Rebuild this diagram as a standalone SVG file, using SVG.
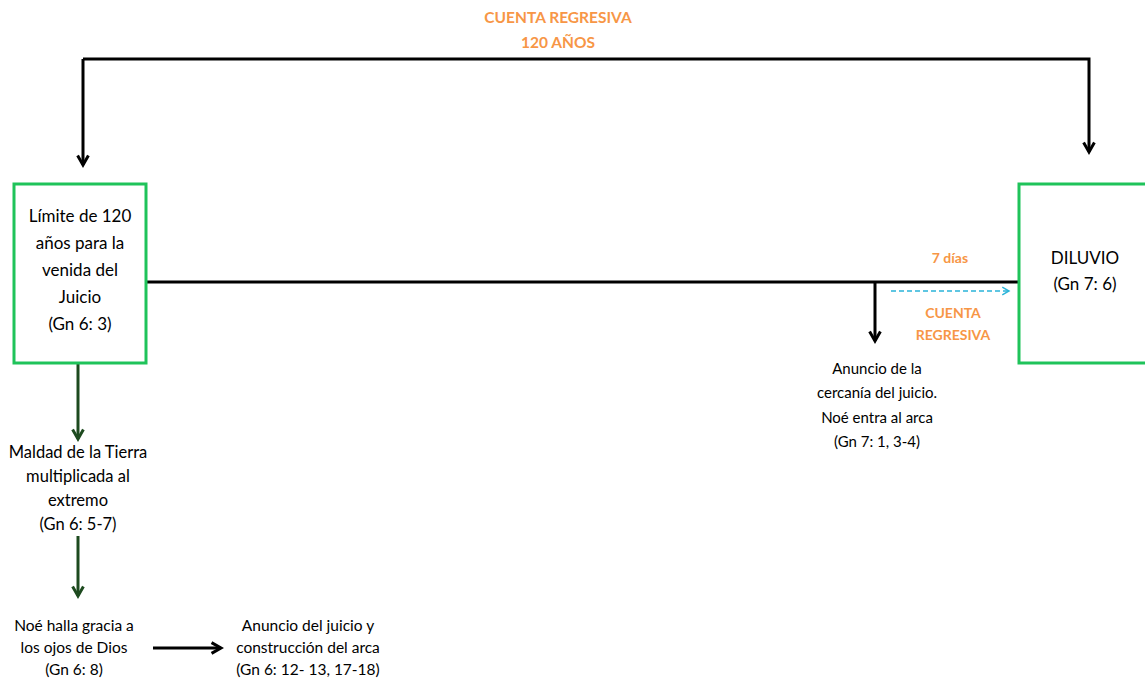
<svg xmlns="http://www.w3.org/2000/svg" width="1145" height="679" viewBox="0 0 1145 679">
  <defs>
    <marker id="ahBlack" viewBox="0 0 10 10" refX="8" refY="5" markerWidth="4.5" markerHeight="4.5" orient="auto">
      <path d="M1,1 L8,5 L1,9" fill="none" stroke="#000" stroke-width="2.2"/>
    </marker>
    <marker id="ahGreen" viewBox="0 0 10 10" refX="8" refY="5" markerWidth="4.5" markerHeight="4.5" orient="auto">
      <path d="M1,1 L8,5 L1,9" fill="none" stroke="#1d4a1f" stroke-width="2.2"/>
    </marker>
    <marker id="ahCyan" viewBox="0 0 10 10" refX="8" refY="5" markerWidth="6" markerHeight="6" orient="auto">
      <path d="M1,1 L8,5 L1,9" fill="none" stroke="#2ab4d9" stroke-width="1.5"/>
    </marker>
  </defs>
  <style>
    text { font-family: Lato, "Open Sans", "Liberation Sans", sans-serif; fill: #000; text-anchor: middle; }
    .box { fill: #fff; stroke: #1fc35a; stroke-width: 3; }
    .orange { fill: #f79646; font-weight: bold; font-size: 14px; }
    .head { font-size: 15.5px; }
    .big { font-size: 17px; }
    .mid { font-size: 16.5px; }
    .side { font-size: 15px; }
    .small { font-size: 15.5px; }
    .line { fill: none; stroke: #000; stroke-width: 3; }
    .green { fill: none; stroke: #1d4a1f; stroke-width: 3; }
  </style>
  <rect width="1145" height="679" fill="#fff"/>

  <g id="connectors">
    <path class="line" d="M83,59 H1089 V152" marker-end="url(#ahBlack)"/>
    <path class="line" d="M83,59 V165" marker-end="url(#ahBlack)"/>
    <line class="line" x1="146" y1="282" x2="1019" y2="282"/>
    <line class="line" x1="875" y1="282" x2="875" y2="341" marker-end="url(#ahBlack)"/>
    <line x1="891" y1="291" x2="1009" y2="291" stroke="#2ab4d9" stroke-width="1.6" stroke-dasharray="5,3" marker-end="url(#ahCyan)"/>
    <line class="green" x1="78" y1="363" x2="78" y2="439" marker-end="url(#ahGreen)"/>
    <line class="green" x1="78" y1="536" x2="78" y2="596" marker-end="url(#ahGreen)"/>
    <line class="line" x1="153" y1="648" x2="221" y2="648" marker-end="url(#ahBlack)"/>
  </g>

  <g id="header-label">
    <text class="orange head" x="558" y="23">CUENTA REGRESIVA</text>
    <text class="orange head" x="558" y="48">120 AÑOS</text>
  </g>

  <g id="node-limite">
    <rect class="box" x="14" y="184" width="132" height="179"/>
    <text class="big" x="80" y="222">Límite de 120</text>
    <text class="big" x="80" y="249">años para la</text>
    <text class="big" x="80" y="276">venida del</text>
    <text class="big" x="80" y="303">Juicio</text>
    <text class="big" x="80" y="330">(Gn 6: 3)</text>
  </g>

  <g id="node-diluvio">
    <rect class="box" x="1019" y="184" width="140" height="179"/>
    <text class="big" x="1085" y="264">DILUVIO</text>
    <text class="big" x="1085" y="290">(Gn 7: 6)</text>
  </g>

  <g id="label-7dias">
    <text class="orange" x="950" y="263">7 días</text>
    <text class="orange" x="953" y="318">CUENTA</text>
    <text class="orange" x="953" y="340">REGRESIVA</text>
  </g>

  <g id="node-anuncio-cercania">
    <text class="side" x="877" y="374">Anuncio de la</text>
    <text class="side" x="877" y="398">cercanía del juicio.</text>
    <text class="side" x="877" y="423">Noé entra al arca</text>
    <text class="side" x="877" y="447">(Gn 7: 1, 3-4)</text>
  </g>

  <g id="node-maldad">
    <text class="mid" x="78" y="458">Maldad de la Tierra</text>
    <text class="mid" x="78" y="482">multiplicada al</text>
    <text class="mid" x="78" y="506">extremo</text>
    <text class="mid" x="78" y="530">(Gn 6: 5-7)</text>
  </g>

  <g id="node-gracia">
    <text class="small" x="74" y="631">Noé halla gracia a</text>
    <text class="small" x="74" y="653">los ojos de Dios</text>
    <text class="small" x="74" y="675">(Gn 6: 8)</text>
  </g>

  <g id="node-anuncio-arca">
    <text class="small" x="308" y="631">Anuncio del juicio y</text>
    <text class="small" x="308" y="653">construcción del arca</text>
    <text class="small" x="308" y="675">(Gn 6: 12- 13, 17-18)</text>
  </g>
</svg>
